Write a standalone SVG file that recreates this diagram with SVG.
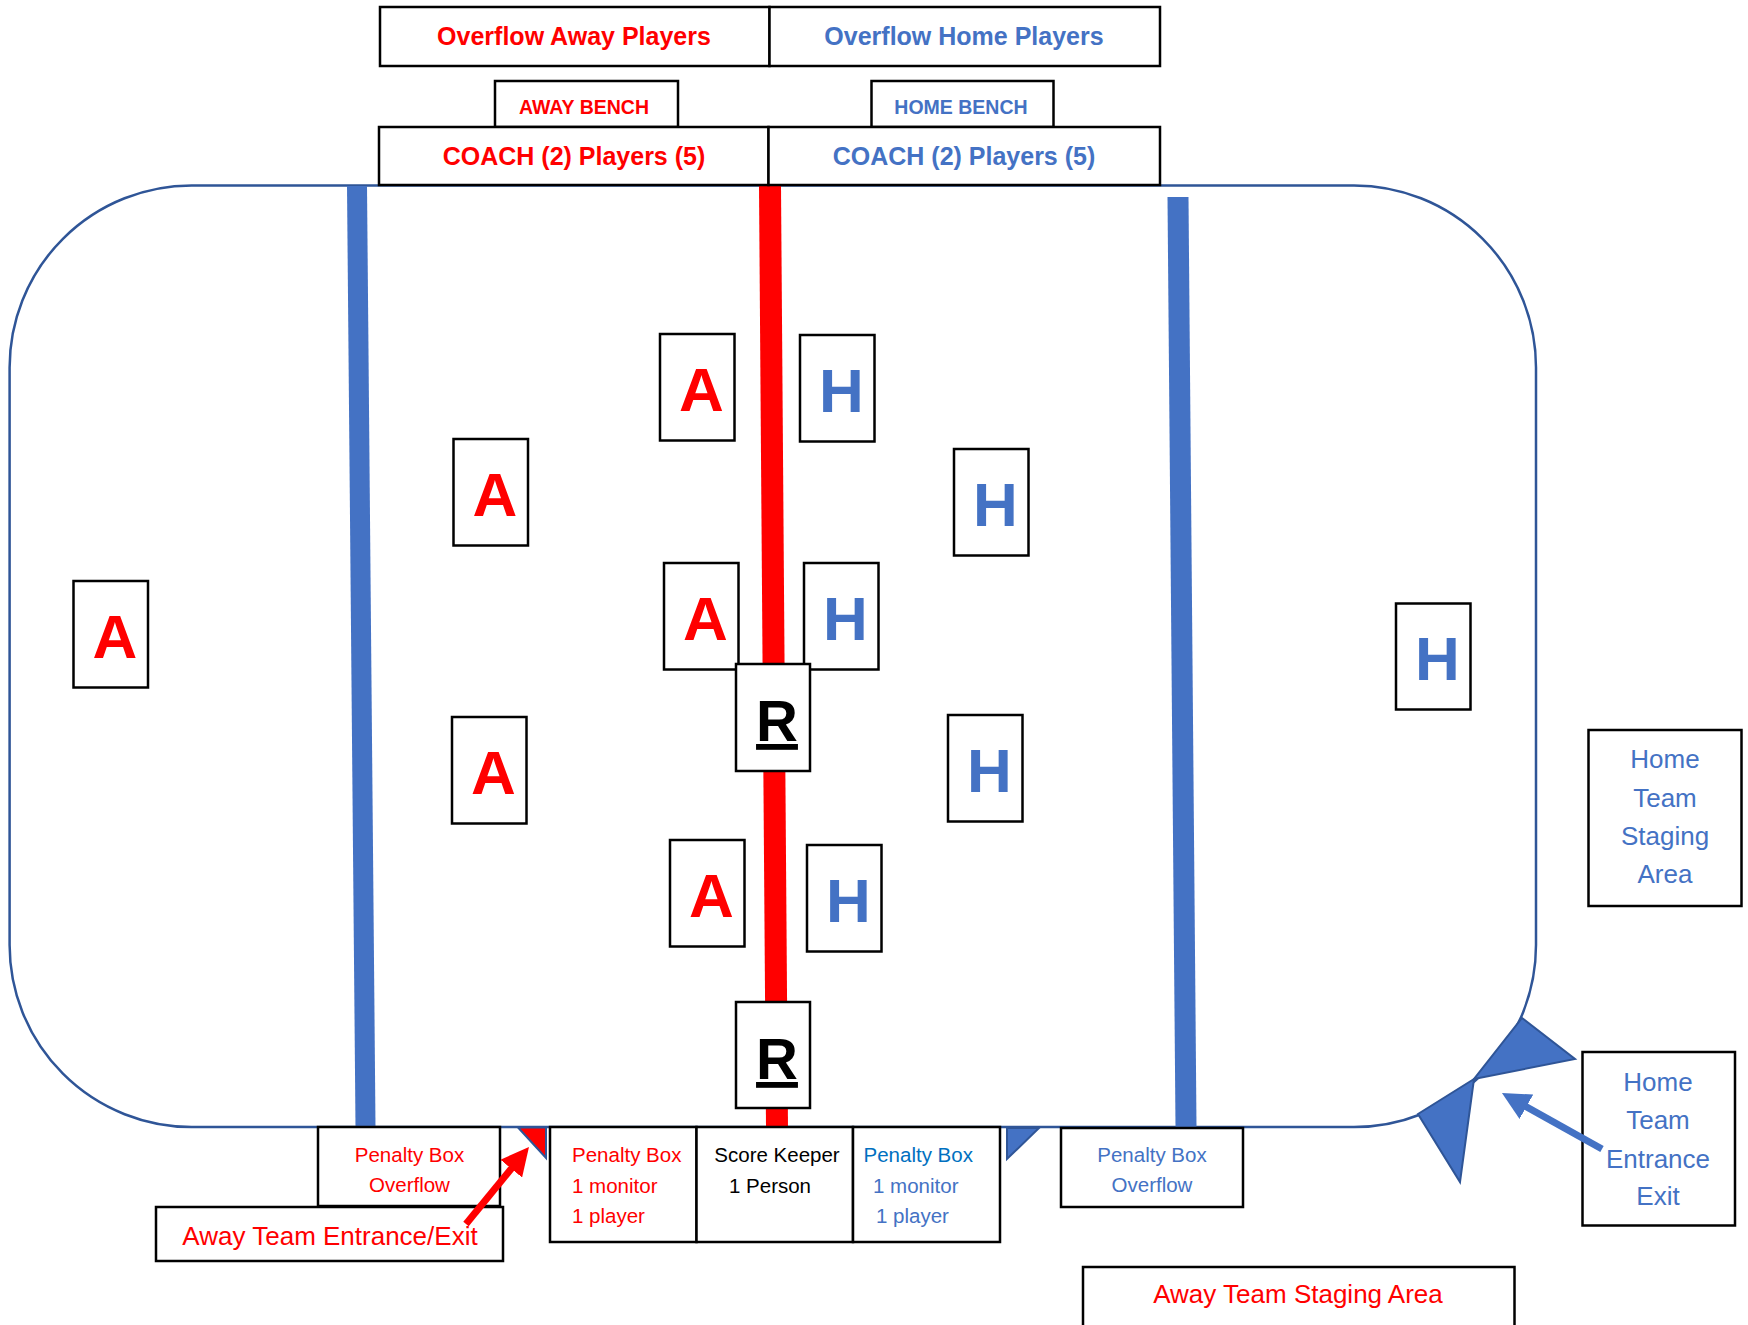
<svg xmlns="http://www.w3.org/2000/svg" width="1748" height="1325" viewBox="0 0 1748 1325">
<defs>
<style>
.box{fill:#fff;stroke:#000;stroke-width:2.5}
text{font-family:"Liberation Sans",Arial,sans-serif}
.red{fill:#FF0000}
.blue{fill:#4472C4}
.blue2{fill:#0070C0}
.blk{fill:#000}
.mid{text-anchor:middle}
.big{font-size:62px;font-weight:bold;text-anchor:middle}
.hdr{font-size:25px;font-weight:bold;text-anchor:middle}
.bench{font-size:19.5px;font-weight:bold;text-anchor:middle}
.sm{font-size:20.5px}
.md{font-size:26px}
.ref{font-size:58px;font-weight:bold;text-anchor:middle;text-decoration:underline}
.flap{stroke:#2F5597;stroke-width:2;stroke-linejoin:miter}
</style>
<marker id="ahRed" viewBox="0 0 10 10" refX="2" refY="5" markerWidth="4" markerHeight="4" orient="auto"><path d="M0,0L10,5L0,10z" fill="#FF0000"/></marker>
<marker id="ahBlue" viewBox="0 0 10 10" refX="2" refY="5" markerWidth="4" markerHeight="4" orient="auto"><path d="M0,0L10,5L0,10z" fill="#4472C4"/></marker>
</defs>
<rect x="0" y="0" width="1748" height="1325" fill="#fff"/>

<g id="rink">
<rect x="9.6" y="185.5" width="1526.4" height="941.5" rx="182" ry="182" fill="none" stroke="#2F5597" stroke-width="2.5"/>
<line x1="357" y1="186" x2="365.5" y2="1127" stroke="#4472C4" stroke-width="20"/>
<line x1="1178" y1="197" x2="1186" y2="1127" stroke="#4472C4" stroke-width="21"/>
<line x1="770" y1="186" x2="777" y2="1127" stroke="#FF0000" stroke-width="22"/>
</g>

<g id="overflow-away"><rect class="box" x="380" y="7" width="389.5" height="59"/><text class="hdr red" x="574" y="45">Overflow Away Players</text></g>
<g id="overflow-home"><rect class="box" x="769.5" y="7" width="390.5" height="59"/><text class="hdr blue" x="964" y="45">Overflow Home Players</text></g>
<g id="away-bench"><rect class="box" x="495" y="81" width="183" height="46"/><text class="bench red" x="584" y="114">AWAY BENCH</text></g>
<g id="home-bench"><rect class="box" x="871.5" y="81" width="182" height="46"/><text class="bench blue" x="961" y="114">HOME BENCH</text></g>
<g id="coach-away"><rect class="box" x="379" y="127" width="389.5" height="58"/><text class="hdr red" x="574" y="165">COACH (2) Players (5)</text></g>
<g id="coach-home"><rect class="box" x="768.5" y="127" width="391.5" height="58"/><text class="hdr blue" x="964" y="165">COACH (2) Players (5)</text></g>

<g id="a1"><rect class="box" x="73.5" y="581" width="74.5" height="106.5"/><text class="big red" x="115" y="658">A</text></g>
<g id="a2"><rect class="box" x="453.5" y="439" width="74.5" height="106.5"/><text class="big red" x="495" y="516">A</text></g>
<g id="a3"><rect class="box" x="452" y="717" width="74.5" height="106.5"/><text class="big red" x="493.5" y="794">A</text></g>
<g id="a4"><rect class="box" x="660" y="334" width="74.5" height="106.5"/><text class="big red" x="701.5" y="411">A</text></g>
<g id="a5"><rect class="box" x="664" y="563" width="74.5" height="106.5"/><text class="big red" x="705.5" y="640">A</text></g>
<g id="a6"><rect class="box" x="670" y="840" width="74.5" height="106.5"/><text class="big red" x="711.5" y="917">A</text></g>

<g id="h1"><rect class="box" x="800" y="335" width="74.5" height="106.5"/><text class="big blue" x="841.5" y="412">H</text></g>
<g id="h2"><rect class="box" x="954" y="449" width="74.5" height="106.5"/><text class="big blue" x="995.5" y="526">H</text></g>
<g id="h3"><rect class="box" x="804" y="563" width="74.5" height="106.5"/><text class="big blue" x="845.5" y="640">H</text></g>
<g id="h4"><rect class="box" x="948" y="715" width="74.5" height="106.5"/><text class="big blue" x="989.5" y="792">H</text></g>
<g id="h5"><rect class="box" x="807" y="845" width="74.5" height="106.5"/><text class="big blue" x="848.5" y="922">H</text></g>
<g id="h6"><rect class="box" x="1396" y="603.5" width="74.5" height="106"/><text class="big blue" x="1437.5" y="680">H</text></g>

<g id="ref1"><rect class="box" x="736" y="664" width="74" height="107"/><text class="ref blk" x="777" y="741">R</text></g>
<g id="ref2"><rect class="box" x="736" y="1002" width="74" height="106"/><text class="ref blk" x="777" y="1079">R</text></g>

<g id="pb-overflow-away"><rect class="box" x="318" y="1127" width="182" height="79"/>
<text class="sm red mid" x="409.5" y="1162">Penalty Box</text><text class="sm red mid" x="409.5" y="1192">Overflow</text></g>
<g id="away-entrance"><rect class="box" x="156" y="1207" width="347" height="54"/><text class="md red mid" x="330" y="1245">Away Team Entrance/Exit</text></g>
<g id="pb-away"><rect class="box" x="550" y="1127" width="146.5" height="115"/>
<text class="sm red" x="572" y="1162">Penalty Box</text><text class="sm red" x="572" y="1192.5">1 monitor</text><text class="sm red" x="572" y="1223">1 player</text></g>
<g id="score-keeper"><rect class="box" x="696.5" y="1127" width="156.5" height="115"/>
<text class="sm blk mid" x="777" y="1162">Score Keeper</text><text class="sm blk mid" x="770" y="1192.5">1 Person</text></g>
<g id="pb-home"><rect class="box" x="853" y="1127" width="147" height="115"/>
<text class="sm blue2" x="863.5" y="1162">Penalty Box</text><text class="sm blue" x="873" y="1192.5">1 monitor</text><text class="sm blue" x="876" y="1223">1 player</text></g>
<g id="pb-overflow-home"><rect class="box" x="1061" y="1128" width="182" height="79"/>
<text class="sm blue mid" x="1152" y="1162">Penalty Box</text><text class="sm blue mid" x="1152" y="1192">Overflow</text></g>
<g id="away-staging"><rect class="box" x="1083" y="1267" width="431.5" height="70"/><text class="md red mid" x="1298" y="1303">Away Team Staging Area</text></g>
<g id="home-staging"><rect class="box" x="1588.5" y="730" width="153" height="176"/>
<text class="md blue mid" x="1665" y="768">Home</text><text class="md blue mid" x="1665" y="807">Team</text><text class="md blue mid" x="1665" y="845">Staging</text><text class="md blue mid" x="1665" y="883">Area</text></g>
<g id="home-entrance"><rect class="box" x="1582.5" y="1052" width="152.5" height="173.5"/>
<text class="md blue mid" x="1658" y="1091">Home</text><text class="md blue mid" x="1658" y="1129">Team</text><text class="md blue mid" x="1658" y="1168">Entrance</text><text class="md blue mid" x="1658" y="1205">Exit</text></g>

<g id="doors">
<polygon class="flap" fill="#FF0000" points="518,1127.5 546,1127.5 546,1158"/>
<polygon class="flap" fill="#4472C4" points="1007,1128 1039,1128 1007,1159"/>
<polygon class="flap" fill="#4472C4" points="1522,1018 1575,1059 1474,1079"/>
<polygon class="flap" fill="#4472C4" points="1474,1079 1418,1114 1460,1182"/>
</g>

<g id="connectors">
<line x1="466" y1="1224" x2="514.8" y2="1164.3" stroke="#FF0000" stroke-width="7" marker-end="url(#ahRed)"/>
<line x1="1602" y1="1149" x2="1521.5" y2="1104" stroke="#4472C4" stroke-width="7" marker-end="url(#ahBlue)"/>
</g>
</svg>
